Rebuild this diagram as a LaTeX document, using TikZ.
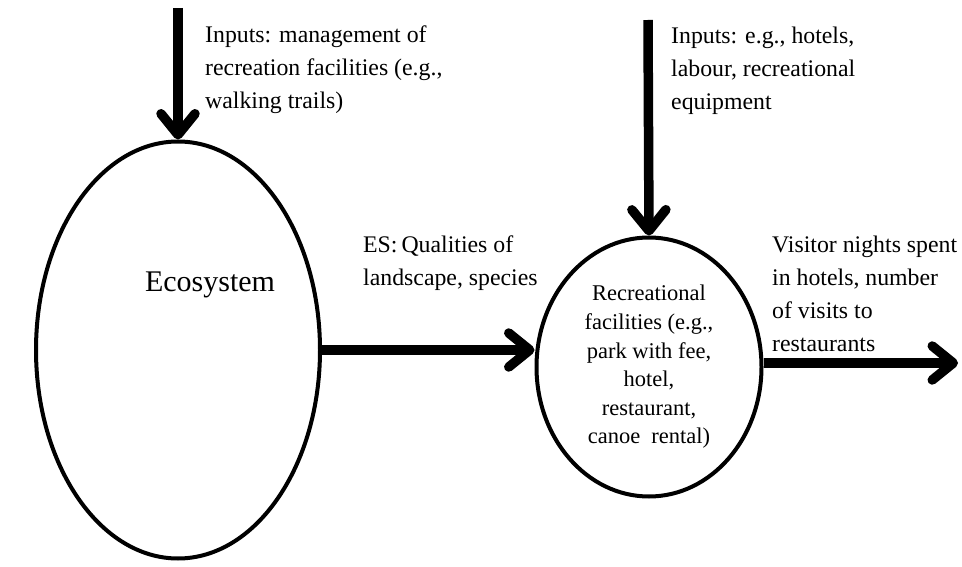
\documentclass[tikz,border=0pt]{standalone}
\usepackage{fontspec}
\setmainfont{Liberation Serif}
\usetikzlibrary{positioning,shapes.geometric,arrows.meta}

\begin{document}
\begin{tikzpicture}[x=1pt,y=-1pt]
       \newcommand{\bodysize}[0]{\fontsize{23.8}{33}\selectfont}
       \newcommand{\innersize}[0]{\fontsize{22.5}{28.6}\selectfont}

       \tikzstyle{zone}      = [ellipse, draw, line width=4pt, inner sep=0pt]
       \tikzstyle{note}      = [anchor=north west, inner sep=0pt, align=left, font=\bodysize]
       \tikzstyle{connector} = [line width=9.5pt, -{Straight Barb[length=21pt, width=34pt, round]}]

       \useasboundingbox (0,0) rectangle (962,567);

       \node [zone, minimum width=284pt, minimum height=417pt] (ecosystem) at (178,350) {};
       \node [font=\fontsize{30}{36}\selectfont] (ecolabel) at (210,285) {Ecosystem};

       \node [zone, minimum width=225pt, minimum height=259pt, align=center, font=\innersize] (facilities) at (649,367) {
         Recreational\\
         facilities (e.g.,\\
         park with fee,\\
         hotel,\\
         restaurant,\\
         canoe\ \ rental)
       };

       \coordinate (inputA) at (178,8);
       \coordinate (inputB) at (648,20);
       \coordinate (output) at (958,363);

       \node [note] (inputAdesc) at (205,26) {
         Inputs: management of\\
         recreation facilities (e.g.,\\
         walking trails)
       };
       \node [note] (inputBdesc) at (671,27) {
         Inputs: e.g., hotels,\\
         labour, recreational\\
         equipment
       };
       \node [note] (servicedesc) at (363,236) {
         ES:\,Qualities of\\
         landscape, species
       };
       \node [note] (outputdesc) at (772,236) {
         Visitor nights spent\\
         in hotels, number\\
         of visits to\\
         restaurants
       };

       \draw [connector] (inputA)          -- (ecosystem.north);
       \draw [connector] (inputB)          -- (facilities.north);
       \draw [connector] (ecosystem.east)  -- (facilities.west |- ecosystem.east);
       \draw [connector] (facilities.east |- output) -- (output);
     \end{tikzpicture}
\end{document}
